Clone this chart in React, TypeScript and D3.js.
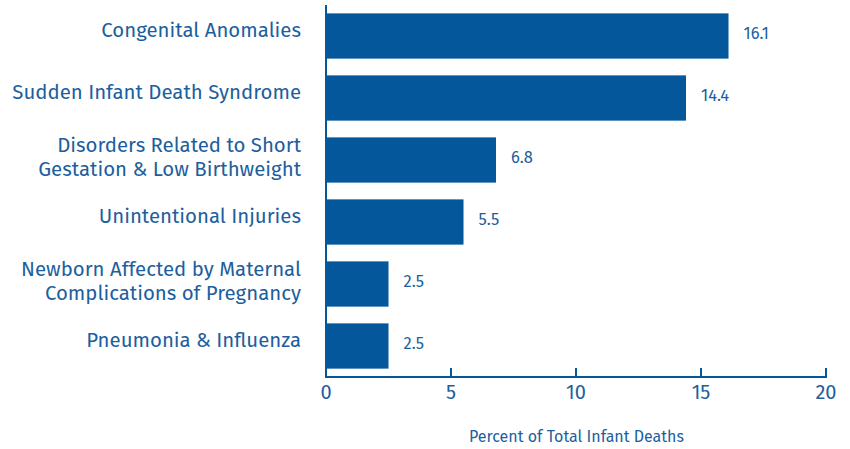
import React from "react";
import * as d3 from "d3";

const categories: string[][] = [
  ["Congenital Anomalies"],
  ["Sudden Infant Death Syndrome"],
  ["Disorders Related to Short", "Gestation & Low Birthweight"],
  ["Unintentional Injuries"],
  ["Newborn Affected by Maternal", "Complications of Pregnancy"],
  ["Pneumonia & Influenza"],
];
const values: number[] = [16.1, 14.4, 6.8, 5.5, 2.5, 2.5];
const valueLabels: string[] = ["16.1", "14.4", "6.8", "5.5", "2.5", "2.5"];
const xTicks: number[] = [0, 5, 10, 15, 20];
const xTitle = "Percent of Total Infant Deaths";

const W = 850;
const H = 449;
const BLUE = "#03579a";
const TEXT = "#1d5f9e";
const FONT = "'Fira Sans', 'Open Sans', 'Noto Sans', sans-serif";

export default function App() {
  const left = 326;
  const right = 826;
  const top = 5;
  const bottom = 377;
  const x = d3.scaleLinear().domain([0, 20]).range([left, right]);
  const idx = categories.map((_, i) => String(i));
  const y = d3
    .scaleBand<string>()
    .domain(idx)
    .range([top, bottom])
    .paddingInner(0.27)
    .paddingOuter(0.135);

  return (
    <svg
      width={W}
      height={H}
      style={{ position: "absolute", left: 0, top: 0, background: "#fff" }}
      fontFamily={FONT}
    >
      {values.map((v, i) => {
        const yy = y(String(i))!;
        return (
          <g key={i}>
            <rect x={x(0)} y={yy} width={x(v) - x(0)} height={y.bandwidth()} fill={BLUE} />
            <text
              x={x(v) + 15}
              y={yy + y.bandwidth() / 2 - 2.5}
              dy="0.35em"
              fontSize={16.5}
              fill={TEXT}
            >
              {valueLabels[i]}
            </text>
          </g>
        );
      })}
      {categories.map((lines, i) => {
        const cy = y(String(i))! + y.bandwidth() / 2;
        const lh = 23.5;
        const shift = lines.length > 1 ? -3 : -6;
        const start = cy + shift - ((lines.length - 1) * lh) / 2;
        return (
          <text key={i} textAnchor="end" fontSize={20.4} fill={TEXT}>
            {lines.map((l, j) => (
              <tspan key={j} x={301} y={start + j * lh} dy="0.35em">
                {l}
              </tspan>
            ))}
          </text>
        );
      })}
      {/* y axis line */}
      <line x1={left} x2={left} y1={top} y2={bottom} stroke={BLUE} strokeWidth={2} />
      {/* x axis line */}
      <line x1={left - 1} x2={right + 1} y1={bottom} y2={bottom} stroke={BLUE} strokeWidth={2} />
      {xTicks.map((t) => (
        <g key={t}>
          <line x1={x(t)} x2={x(t)} y1={bottom} y2={bottom - 9} stroke={BLUE} strokeWidth={2} />
          <text x={x(t)} y={392} dy="0.35em" textAnchor="middle" fontSize={20} fill={TEXT}>
            {t}
          </text>
        </g>
      ))}
      <text x={576.5} y={436} dy="0.35em" textAnchor="middle" fontSize={16} fill={TEXT}>
        {xTitle}
      </text>
    </svg>
  );
}
